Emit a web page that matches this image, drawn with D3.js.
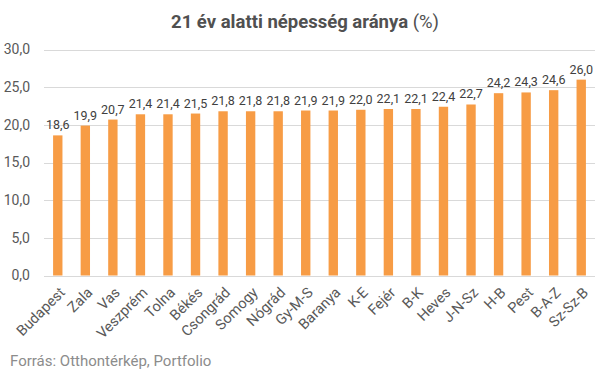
<!DOCTYPE html>
<meta charset="utf-8">
<style>
body { margin: 0; background: #fff; }
svg { font-family: Roboto, "Noto Sans", sans-serif; }
.grid line { stroke: #d9d9d9; }
.ytick { font-size: 14px; fill: #595959; text-anchor: end; }
.xtick { font-size: 14.5px; fill: #595959; text-anchor: end; }
.val { font-size: 12.5px; fill: #404040; text-anchor: middle; }
</style>
<svg width="605" height="378"></svg>
<script src="https://d3js.org/d3.v7.min.js"></script>
<script>

var counties = ["Budapest", "Zala", "Vas", "Veszprém", "Tolna", "Békés", "Csongrád", "Somogy", "Nógrád", "Gy-M-S",
  "Baranya", "K-E", "Fejér", "B-K", "Heves", "J-N-Sz", "H-B", "Pest", "B-A-Z", "Sz-Sz-B"];
var values = [18.6, 19.9, 20.7, 21.4, 21.4, 21.5, 21.8, 21.8, 21.8, 21.9,
  21.9, 22.0, 22.1, 22.1, 22.4, 22.7, 24.2, 24.3, 24.6, 26.0];
var yTicks = [0, 5, 10, 15, 20, 25, 30];

var svg = d3.select("svg"),
    mLeft = 44, mRight = 595, mTop = 49.5, mBottom = 275.5;

var fmt = function(v) { return d3.format(".1f")(v).replace(".", ","); };

var x = d3.scaleBand().domain(counties).range([mLeft, mRight]).paddingInner(0.66).paddingOuter(0.33);
var y = d3.scaleLinear().domain([0, 30]).range([mBottom, mTop]);

svg.append("text")
    .attr("x", 305).attr("y", 28)
    .attr("text-anchor", "middle")
    .style("font-size", "18.5px").style("fill", "#505050")
    .call(function(t) {
      t.append("tspan").style("font-weight", "bold").text("21 év alatti népesség aránya ");
      t.append("tspan").text("(%)");
    });

var grid = svg.append("g").attr("class", "grid");
grid.selectAll("line").data(yTicks).enter().append("line")
    .attr("x1", mLeft).attr("x2", mRight)
    .attr("y1", function(d) { return Math.round(y(d)) + 0.5; })
    .attr("y2", function(d) { return Math.round(y(d)) + 0.5; });

svg.selectAll(".ytick").data(yTicks).enter().append("text")
    .attr("class", "ytick")
    .attr("x", 30).attr("y", function(d) { return y(d); })
    .attr("dy", "0.35em")
    .text(fmt);

svg.selectAll(".bar").data(values).enter().append("rect")
    .attr("class", "bar")
    .attr("fill", "#f79c45")
    .attr("x", function(d, i) { return x(counties[i]); })
    .attr("width", x.bandwidth())
    .attr("y", function(d) { return y(d); })
    .attr("height", function(d) { return mBottom - y(d); });

svg.selectAll(".val").data(values).enter().append("text")
    .attr("class", "val")
    .attr("x", function(d, i) { return x(counties[i]) + x.bandwidth() / 2; })
    .attr("y", function(d) { return y(d) - 6; })
    .text(fmt);

svg.selectAll(".xtick").data(counties).enter().append("text")
    .attr("class", "xtick")
    .attr("transform", function(d) {
      return "translate(" + (x(d) + x.bandwidth() / 2 + 8) + "," + (mBottom + 18) + ") rotate(-45)";
    })
    .text(function(d) { return d; });

svg.append("text")
    .attr("x", 10).attr("y", 366)
    .style("font-size", "15px").style("fill", "#8c8c8c")
    .text("Forrás: Otthontérkép, Portfolio");

</script>
